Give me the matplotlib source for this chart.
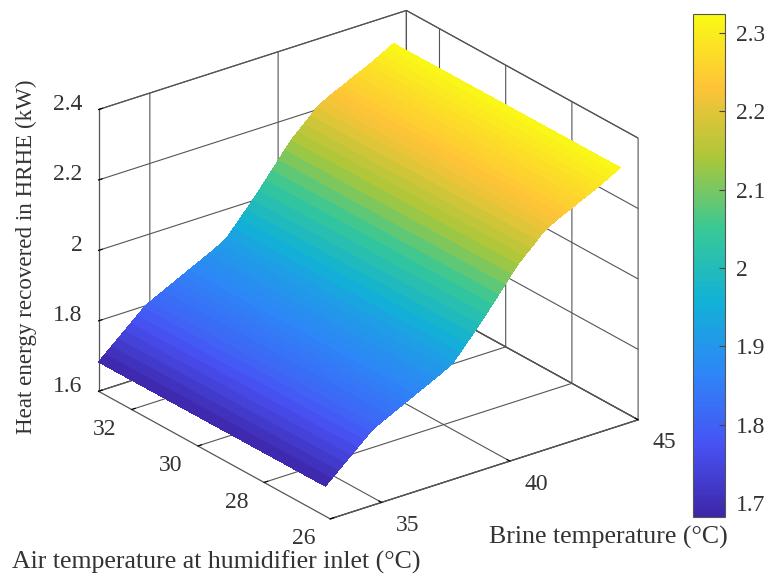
import numpy as np
import matplotlib as mpl
mpl.use('Agg')
import matplotlib.pyplot as plt
from matplotlib.colors import LinearSegmentedColormap, Normalize
from mpl_toolkits.mplot3d import proj3d

mpl.rcParams['font.family'] = 'Liberation Serif'

# values
brine_temp = [33, 33.25, 33.5, 33.75, 34, 34.25, 34.5, 34.75, 35, 35.25, 35.5, 35.75,
              36, 36.25, 36.5, 36.75, 37, 37.25, 37.5, 37.75, 38, 38.25, 38.5, 38.75,
              39, 39.25, 39.5, 39.75, 40, 40.25, 40.5, 40.75, 41, 41.25, 41.5, 41.75,
              42, 42.25, 42.5, 42.75, 43, 43.25, 43.5, 43.75, 44, 44.25, 44.5]
air_temp = [26.15, 33]
heat_energy = [1.685, 1.701, 1.717, 1.733, 1.749, 1.765, 1.781, 1.797, 1.809, 1.818, 1.827, 1.836,
               1.845, 1.854, 1.863, 1.872, 1.881, 1.890, 1.899, 1.909, 1.921, 1.941, 1.962, 1.982,
               2.003, 2.025, 2.048, 2.070, 2.093, 2.116, 2.138, 2.156, 2.172, 2.190, 2.208, 2.219,
               2.229, 2.238, 2.246, 2.255, 2.264, 2.272, 2.281, 2.290, 2.300, 2.310, 2.320]
air_shift = [0, -0.002]

brine_ticks = [35, 40, 45]
air_ticks = [26, 28, 30, 32]
heat_ticks = [1.6, 1.8, 2, 2.2, 2.4]
heat_tick_labels = ['1.6', '1.8', '2', '2.2', '2.4']
cbar_ticks = [1.7, 1.8, 1.9, 2, 2.1, 2.2, 2.3]
cbar_tick_labels = ['1.7', '1.8', '1.9', '2', '2.1', '2.2', '2.3']

parula = LinearSegmentedColormap.from_list('parula', [
  (0.2422, 0.1504, 0.6603), (0.2810, 0.3228, 0.9579), (0.1786, 0.5289, 0.9682),
  (0.0689, 0.6948, 0.8394), (0.2161, 0.7843, 0.5923), (0.6720, 0.7793, 0.2227),
  (0.9970, 0.7659, 0.2199), (0.9769, 0.9839, 0.0805)], N=256)
norm = Normalize(1.682, 2.324)

W, H = 764, 579
txt_col = '#333333'
line_col = '#555555'

fig = plt.figure(figsize=(W/100, H/100), dpi=100, facecolor='white')
ax = fig.add_axes([-21.5/W, 17/H, 1.0, 1.0], projection='3d', proj_type='ortho', facecolor='none')

X, Y = np.meshgrid(brine_temp, air_temp)
Z = np.array([np.array(heat_energy) + s for s in air_shift])
surf = ax.plot_surface(X, Y, Z, rstride=1, cstride=1, cmap=parula, norm=norm,
                       linewidth=0, edgecolor='none', antialiased=False, shade=False)

ax.set_xlim(33, 45)
ax.set_ylim(26, 33)
ax.set_zlim(1.6, 2.4)
ax.view_init(elev=24.9, azim=-127.4)
ax.set_box_aspect((388, 382, 311), zoom=1.05)

ax.set_xticks(brine_ticks)
ax.set_yticks(air_ticks)
ax.set_zticks(heat_ticks)
ax.set_xticklabels([])
ax.set_yticklabels([])
ax.set_zticklabels([])

for axis in (ax.xaxis, ax.yaxis, ax.zaxis):
  axis.set_pane_color((1, 1, 1, 1))
  axis.pane.set_edgecolor(line_col)
  axis.pane.set_linewidth(0.9)
  axis.line.set_color(line_col)
  axis.line.set_linewidth(0.9)
  axis._axinfo['grid'].update(color=line_col, linewidth=0.8)
  axis._axinfo['tick'].update(inward_factor=0.0, outward_factor=0.15)


def tick_text(x, y, z, label, dx, dy, ha='center'):
  # tick label a fixed number of pixels away from its spot on the box
  x2, y2, _ = proj3d.proj_transform(x, y, z, ax.get_proj())
  ax.annotate(label, xy=(x2, y2), xytext=(dx, dy), textcoords='offset pixels',
              ha=ha, va='center', fontsize=17, color=txt_col, annotation_clip=False)


fig.canvas.draw()
for b in brine_ticks:
  tick_text(b, 26, 1.6, str(b), 26, -23)
for a in air_ticks:
  tick_text(33, a, 1.6, str(a), -27, -20)
for h, lab in zip(heat_ticks, heat_tick_labels):
  tick_text(33, 33, h, lab, -16, 5, ha='right')

fig.text(26/W, 1-257/H, 'Heat energy recovered in HRHE (kW)', rotation=90,
         ha='center', va='center', fontsize=16.6, color=txt_col)
fig.text(12/W, 1-562/H, 'Air temperature at humidifier inlet (°C)',
         ha='left', va='center', fontsize=18.6, color=txt_col)
fig.text(489/W, 1-537/H, 'Brine temperature (°C)',
         ha='left', va='center', fontsize=18.6, color=txt_col)

cax = fig.add_axes([693/W, 1-517/H, 32/W, 503/H])
cb = fig.colorbar(surf, cax=cax)
cb.set_ticks(cbar_ticks)
cb.set_ticklabels(cbar_tick_labels)
cb.ax.tick_params(direction='in', length=4, width=0.8, color='#444444', labelsize=17,
                  labelcolor=txt_col, pad=8)
cb.outline.set_edgecolor(line_col)
cb.outline.set_linewidth(0.8)

fig.savefig('out.png', dpi=100)
